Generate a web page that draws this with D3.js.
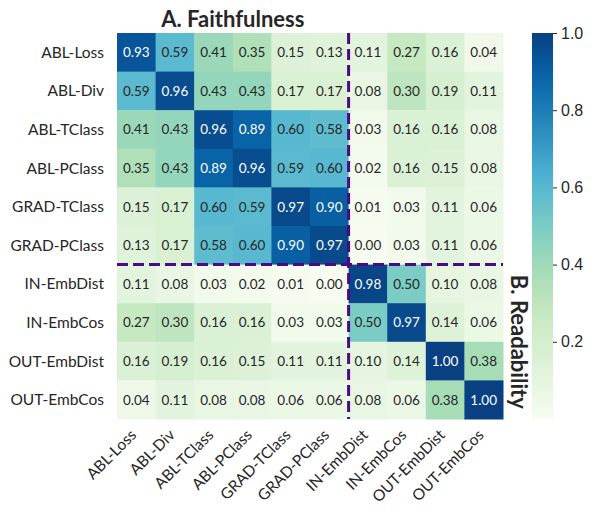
<!DOCTYPE html>
<html><head><meta charset="utf-8">
<script src="https://cdn.jsdelivr.net/npm/d3@7"></script>
<style>body{margin:0;background:#fff}</style>
</head><body><svg id="c" width="595" height="512"></svg>
<script>
const labels = ["ABL-Loss","ABL-Div","ABL-TClass","ABL-PClass","GRAD-TClass","GRAD-PClass","IN-EmbDist","IN-EmbCos","OUT-EmbDist","OUT-EmbCos"];
const matrix = [
 [0.93,0.59,0.41,0.35,0.15,0.13,0.11,0.27,0.16,0.04],
 [0.59,0.96,0.43,0.43,0.17,0.17,0.08,0.30,0.19,0.11],
 [0.41,0.43,0.96,0.89,0.60,0.58,0.03,0.16,0.16,0.08],
 [0.35,0.43,0.89,0.96,0.59,0.60,0.02,0.16,0.15,0.08],
 [0.15,0.17,0.60,0.59,0.97,0.90,0.01,0.03,0.11,0.06],
 [0.13,0.17,0.58,0.60,0.90,0.97,0.00,0.03,0.11,0.06],
 [0.11,0.08,0.03,0.02,0.01,0.00,0.98,0.50,0.10,0.08],
 [0.27,0.30,0.16,0.16,0.03,0.03,0.50,0.97,0.14,0.06],
 [0.16,0.19,0.16,0.15,0.11,0.11,0.10,0.14,1.00,0.38],
 [0.04,0.11,0.08,0.08,0.06,0.06,0.08,0.06,0.38,1.00]
];
const cbTicks = [0.2,0.4,0.6,0.8,1.0];
const groupA = "A. Faithfulness";
const groupB = "B. Readability";
const splitIndex = 6;
const gnbu = ["#f7fcf0","#e0f3db","#ccebc5","#a8ddb5","#7bccc4","#4eb3d3","#2b8cbe","#0868ac","#084081"];

const svg = d3.select("#c");
const L = 117, T = 33, S = 386;
const x = d3.scaleBand().domain(d3.range(labels.length)).range([L, L+S]);
const y = d3.scaleBand().domain(d3.range(labels.length)).range([T, T+S]);
const color = d3.scaleLinear().domain(d3.range(gnbu.length).map(i=>i/(gnbu.length-1))).range(gnbu).clamp(true);

function lum(c){
  const r = d3.rgb(c);
  const f = v => { v/=255; return v<=0.03928 ? v/12.92 : Math.pow((v+0.055)/1.055,2.4); };
  return 0.2126*f(r.r)+0.7152*f(r.g)+0.0722*f(r.b);
}

const cells = [];
matrix.forEach((row,i)=>row.forEach((v,j)=>cells.push({i,j,v})));
const font = "Lato, 'Open Sans', sans-serif";

svg.append("g").selectAll("rect").data(cells).join("rect")
  .attr("x",d=>x(d.j)).attr("y",d=>y(d.i))
  .attr("width",x.bandwidth()+0.5).attr("height",y.bandwidth()+0.5)
  .attr("fill",d=>color(d.v));

svg.append("g").selectAll("text").data(cells).join("text")
  .attr("x",d=>x(d.j)+x.bandwidth()/2).attr("y",d=>y(d.i)+y.bandwidth()/2)
  .attr("dy","0.36em").attr("text-anchor","middle")
  .style("font-family",font).style("font-size","13.5px")
  .attr("fill",d=>lum(color(d.v))>0.408 ? "#262626" : "#ffffff")
  .text(d=>d.v.toFixed(2));

// y labels
svg.append("g").selectAll("text").data(labels).join("text")
  .attr("x",L-13).attr("y",(d,i)=>y(i)+y.bandwidth()/2).attr("dy","0.36em")
  .attr("text-anchor","end").style("font-family",font).style("font-size","15.5px")
  .attr("fill","#262626").text(d=>d);

// x labels
svg.append("g").selectAll("text").data(labels).join("text")
  .attr("transform",(d,i)=>`translate(${x(i)+x.bandwidth()/2-3},${T+S+13}) rotate(-45)`)
  .attr("dy","0.36em")
  .attr("text-anchor","end").style("font-family",font).style("font-size","15.5px")
  .attr("fill","#262626").text(d=>d);

// dashed separators
const sx = x(splitIndex), sy = y(splitIndex);
svg.append("line").attr("x1",sx).attr("x2",sx).attr("y1",T).attr("y2",T+S)
  .attr("stroke","#4b0a82").attr("stroke-width",3).attr("stroke-dasharray","11,5");
svg.append("line").attr("x1",L).attr("x2",L+S).attr("y1",sy).attr("y2",sy)
  .attr("stroke","#4b0a82").attr("stroke-width",3).attr("stroke-dasharray","11,5");

// group titles
svg.append("text").attr("x",(L+sx)/2).attr("y",T-6).attr("text-anchor","middle")
  .style("font-family",font).style("font-weight","bold").style("font-size","22px")
  .attr("fill","#262626").text(groupA);
svg.append("text").attr("transform",`translate(${L+S+8},${(sy+T+S)/2}) rotate(90)`)
  .attr("text-anchor","middle")
  .style("font-family",font).style("font-weight","bold").style("font-size","22px")
  .attr("fill","#262626").text(groupB);

// colorbar
const cbX = 532, cbW = 21;
const cy = d3.scaleLinear().domain([0,1]).range([T+S, T]);
const defs = svg.append("defs");
const grad = defs.append("linearGradient").attr("id","g").attr("x1",0).attr("y1",1).attr("x2",0).attr("y2",0);
d3.range(0,1.0001,0.05).forEach(t=>grad.append("stop").attr("offset",t).attr("stop-color",color(t)));
svg.append("rect").attr("x",cbX).attr("y",T).attr("width",cbW).attr("height",S).attr("fill","url(#g)");
const ax = svg.append("g").attr("transform",`translate(${cbX+cbW},0)`)
  .call(d3.axisRight(cy).tickValues(cbTicks).tickFormat(d3.format(".1f")).tickSize(4).tickPadding(4));
ax.select(".domain").remove();
ax.selectAll("line").attr("stroke","#262626");
ax.selectAll("text").style("font-family","'Liberation Sans', Arial, sans-serif").style("font-size","16px").attr("fill","#262626");
</script></body></html>
